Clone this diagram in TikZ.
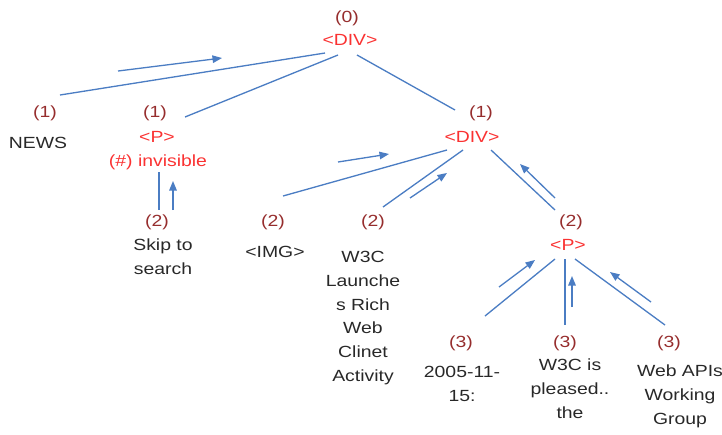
\documentclass[tikz,border=0pt]{standalone}
\usepackage{fontspec}
\setmainfont{Liberation Sans}[FakeStretch=1.2]
\usetikzlibrary{calc,arrows.meta}
\definecolor{lvlred}{RGB}{150,45,45}
\definecolor{tagred}{RGB}{250,50,50}
\definecolor{txtgray}{RGB}{40,40,40}
\definecolor{linkblue}{RGB}{75,125,195}

\begin{document}
\begin{tikzpicture}[x=0.02cm,y=-0.02cm,
		every node/.style={font=\fontsize{9.2}{13.6}\selectfont, inner sep=1pt},
		lvl/.style={text=lvlred},
		tag/.style={text=tagred},
		txt/.style={text=txtgray, align=center},
		link/.style={draw=linkblue, line width=0.75pt},
		flow/.style={link, -{Triangle[length=1.9mm,width=1.5mm]}}]
			\useasboundingbox (0,0) rectangle (722,434);
			% depth labels
			\foreach \n/\x/\y/\l in {l0/347/18/0, l1a/45/113/1, l1b/155/113/1, l1c/481/113/1,
				l2a/157/222/2, l2b/273/222/2, l2c/373/222/2, l2d/571/222/2,
				l3a/461/343/3, l3b/565/343/3, l3c/669/343/3}{
				\node[lvl] (\n) at (\x,\y) {(\l)};
			}
			% tags
			\node[tag] (div0) at (350,40) {<DIV>};
			\node[tag] (p1) at (157,137) {<P>};
			\node[tag] (inv) at (158,162) {(\#) invisible};
			\node[tag] (div1) at (472,137) {<DIV>};
			\node[tag] (p2) at (568,245) {<P>};
			% contents
			\node[txt] (news) at (38,143) {NEWS};
			\node[txt] (skip) at (163,257) {Skip to\\search};
			\node[txt] (img) at (275,252) {<IMG>};
			\node[txt] (w3c) at (363,318) {W3C\\Launche\\s Rich\\Web\\Clinet\\Activity};
			\node[txt] (date) at (462,384) {2005-11-\\15:};
			\node[txt] (pleased) at (570,389) {W3C is\\pleased..\\the};
			\node[txt] (apis) at (680,396) {Web APIs\\Working\\Group};
			% tree links
			\foreach \a/\da/\b/\db in {div0/{-25,13}/l1a/{15,-18}, div0/{-12,15}/l1b/{30,4},
				div0/{7,15}/l1c/{-26,-3}, inv/{1,10}/l2a/{2,-12},
				div1/{-25,13}/l2b/{10,-26}, div1/{-9,13}/l2c/{10,-15}, div1/{19,13}/l2d/{-16,-12},
				p2/{-13,14}/l3a/{24,-27}, p2/{-3,14}/l3b/{0,-18}, p2/{7,14}/l3c/{-4,-18}}{
				\draw[link] ($(\a)+(\da)$) -- ($(\b)+(\db)$);
			}
			% traversal arrows
			\foreach \i/\s/\e in {1/{118,71}/{222,58}, 2/{173,210}/{173,181}, 3/{338,162}/{389,154},
				4/{410,198}/{447,173}, 5/{555,198}/{520,164}, 6/{499,287}/{535,260},
				7/{572,307}/{572,276}, 8/{651,302}/{610,272}}{
				\coordinate (f\i s) at (\s);
				\coordinate (f\i e) at (\e);
				\draw[flow] (f\i s) -- (f\i e);
			}
		\end{tikzpicture}
\end{document}
